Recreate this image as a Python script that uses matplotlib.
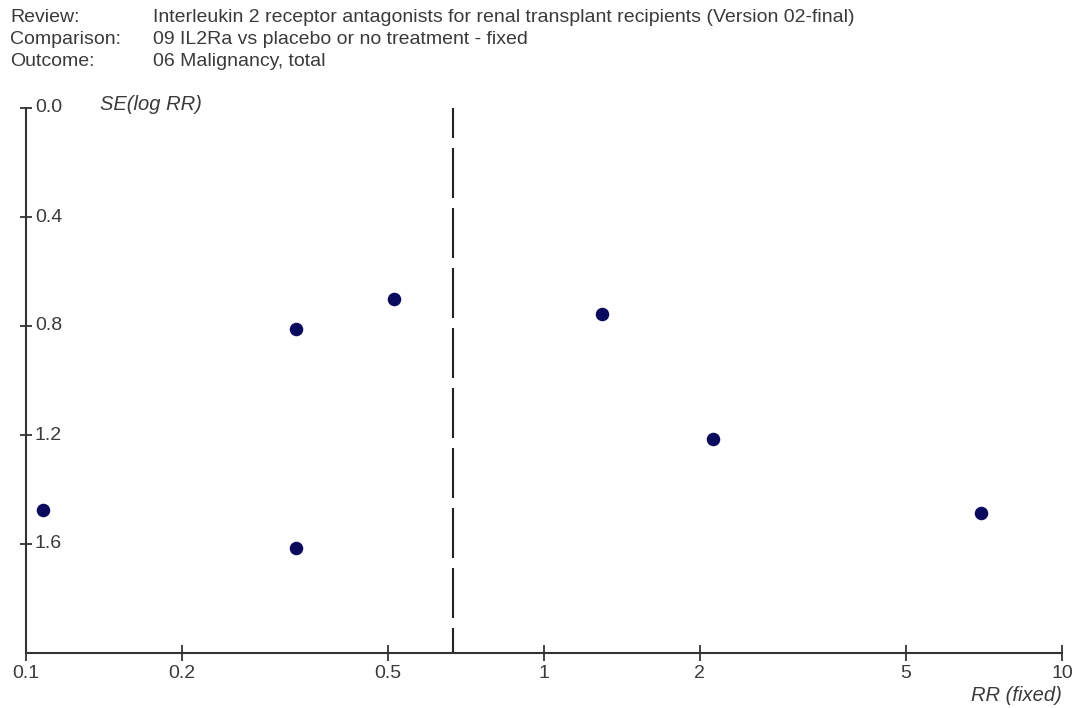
import matplotlib.pyplot as plt
import matplotlib.transforms as mtransforms
import numpy as np

# Funnel plot data: risk ratio vs standard error of log RR
rr = [0.108, 0.332, 0.332, 0.513, 1.294, 2.12, 6.98]
se = [1.476, 1.615, 0.81, 0.70, 0.755, 1.216, 1.487]
pooled_rr = 0.667

x_ticks = [0.1, 0.2, 0.5, 1, 2, 5, 10]
x_labels = ['0.1', '0.2', '0.5', '1', '2', '5', '10']
y_ticks = [0.0, 0.4, 0.8, 1.2, 1.6]
y_labels = ['0.0', '0.4', '0.8', '1.2', '1.6']

header = [('Review:', 'Interleukin 2 receptor antagonists for renal transplant recipients (Version 02-final)'),
          ('Comparison:', '09 IL2Ra vs placebo or no treatment - fixed'),
          ('Outcome:', '06 Malignancy, total')]

plt.rcParams['font.family'] = ['Liberation Sans', 'DejaVu Sans']
txt = '#3a3a3a'
fs = 14

fig = plt.figure(figsize=(10.78, 7.08), dpi=100)
ax = fig.add_axes([26/1078, 1 - 653/708, (1062 - 26)/1078, (653 - 108)/708])

ax.scatter(rr, se, s=95, color='#0b0b5e', zorder=3, linewidths=0)
# dashed line at the pooled estimate, drawn from the top down
ax.plot([pooled_rr, pooled_rr], [0.0, 2.0], color='#222222', lw=1.5,
        linestyle=(9.6, (24, 4.8)), zorder=2)

ax.set_xscale('log')
ax.set_xlim(0.1, 10)
ax.set_ylim(2.0, 0.0)

for s in ['top', 'right']:
    ax.spines[s].set_visible(False)
for s in ['left', 'bottom']:
    ax.spines[s].set_color('#333333')
    ax.spines[s].set_linewidth(1.5)

ax.set_xticks(x_ticks)
ax.set_xticklabels(x_labels)
ax.xaxis.set_minor_locator(plt.NullLocator())
ax.tick_params(axis='x', direction='inout', length=11, width=1.3, color='#333333',
               labelsize=fs, labelcolor=txt, pad=3)

ax.set_yticks(y_ticks)
ax.set_yticklabels([])
ax.tick_params(axis='y', direction='inout', length=8.5, width=1.3, color='#333333')
trans = mtransforms.blended_transform_factory(ax.transAxes, ax.transData)
for v, lab in zip(y_ticks, y_labels):
    ax.text(9/1036, v, lab, transform=trans, ha='left', va='center',
            fontsize=fs, color=txt)

ax.text(74/1036, -0.012, 'SE(log RR)', transform=trans, ha='left', va='center',
        fontsize=14.5, color=txt, style='italic')
ax.text(1.0, -0.06, 'RR (fixed)', transform=ax.transAxes, ha='right', va='top',
        fontsize=14.5, color=txt, style='italic')

for i, (k, v) in enumerate(header):
    y = 1 - (17 + 22 * i) / 708
    fig.text(10/1078, y, k, ha='left', va='center', fontsize=fs, color=txt)
    fig.text(153/1078, y, v, ha='left', va='center', fontsize=fs, color=txt)

fig.savefig('out.png', dpi=100, facecolor='white')
